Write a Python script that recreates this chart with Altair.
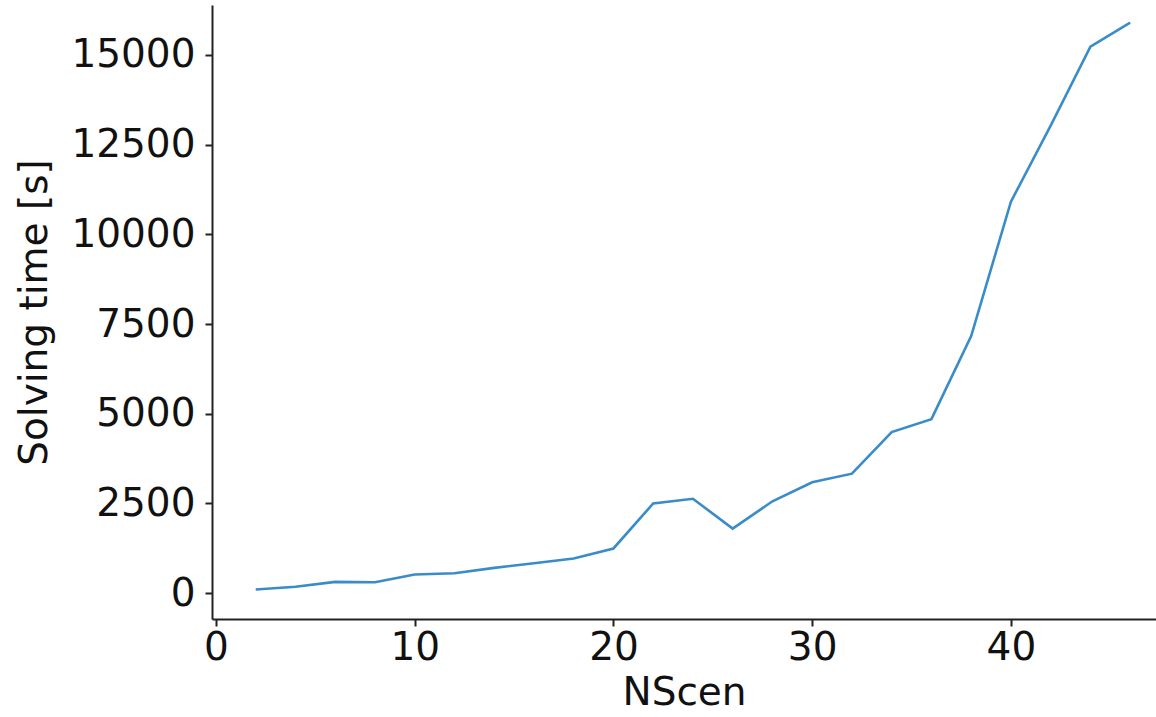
import altair as alt
import pandas as pd

# Number of scenarios and measured solver wall-clock time
nscen = [2, 4, 6, 8, 10, 12, 14, 16, 18, 20, 22, 24,
         26, 28, 30, 32, 34, 36, 38, 40, 42, 44, 46]
solve_time = [100, 180, 315, 305, 520, 555, 705, 835, 965, 1245, 2500, 2630,
              1800, 2560, 3090, 3330, 4490, 4850, 7165, 10910, 13030, 15230, 15900]

df = pd.DataFrame({"NScen": nscen, "time": solve_time})

FONT = "DejaVu Sans"

chart = (
    alt.Chart(df)
    .mark_line(color="#3a8cc8", strokeWidth=2.6)
    .encode(
        x=alt.X(
            "NScen:Q",
            scale=alt.Scale(domain=[-0.2, 47.3], nice=False, zero=False),
            axis=alt.Axis(
                values=[0, 10, 20, 30, 40],
                format="d",
                title="NScen",
                titlePadding=6,
                labelPadding=2,
            ),
        ),
        y=alt.Y(
            "time:Q",
            scale=alt.Scale(domain=[-720, 16390], nice=False, zero=False),
            axis=alt.Axis(
                values=[0, 2500, 5000, 7500, 10000, 12500, 15000],
                format="d",
                title="Solving time [s]",
                titlePadding=16,
                labelPadding=10,
            ),
        ),
    )
    .properties(
        width=944,
        height=614,
        autosize=alt.AutoSizeParams(type="none"),
        padding={"left": 212, "top": 5, "right": 0, "bottom": 98},
    )
    .configure_view(stroke=None)
    .configure_axis(
        grid=False,
        domainColor="#222222",
        domainWidth=2,
        tickColor="#222222",
        tickWidth=2,
        tickSize=7,
        labelFont=FONT,
        labelFontSize=39,
        labelColor="#111111",
        titleFont=FONT,
        titleFontSize=39,
        titleFontWeight="normal",
        titleColor="#111111",
        labelFlush=False,
        labelOverlap=False,
    )
)

chart.save("out.html", embed_options={"renderer": "svg", "actions": False})
